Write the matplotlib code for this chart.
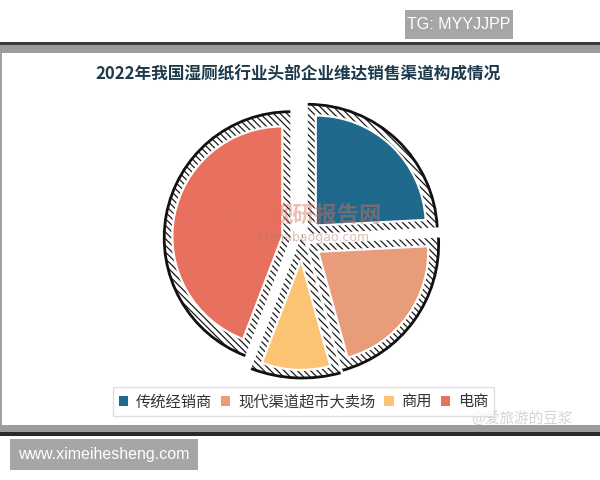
import numpy as np
import matplotlib
matplotlib.use("Agg")
import matplotlib.pyplot as plt
from matplotlib.patches import Wedge, Arc, Rectangle

plt.rcParams['font.family'] = ['Noto Sans CJK SC', 'DejaVu Sans']
plt.rcParams['hatch.linewidth'] = 0.9

title = "2022年我国湿厕纸行业头部企业维达销售渠道构成情况"
categories = ["传统经销商", "现代渠道超市大卖场", "商用", "电商"]
values = [24.2, 21.5, 10.1, 44.2]
colors = ["#1F698C", "#E89C7A", "#FBC373", "#E8705F"]

fig = plt.figure(figsize=(6, 4.8), dpi=100)
fig.patch.set_facecolor("white")
ax = fig.add_axes([0, 0, 1, 1])

# pie (data coordinates = pixels, y up)
cx, cy, R = 302, 240, 110
wedges, _ = ax.pie(values, colors=colors, startangle=90, counterclock=False,
                   center=(cx, cy), radius=R, explode=[20] * len(values),
                   wedgeprops=dict(edgecolor="white", linewidth=1.6, zorder=5))

d = 8.0
for w in wedges:
    t1, t2 = w.theta1, w.theta2
    a = np.deg2rad((t2 - t1) / 2.0)
    mid = np.deg2rad((t1 + t2) / 2.0)
    s = d / np.sin(a)
    c0 = np.array(w.center) - s * np.array([np.cos(mid), np.sin(mid)])
    rr = w.r + d + s
    bw = Wedge(tuple(c0), rr, t1, t2, facecolor="white", edgecolor="#1a1a1a",
               hatch="\\\\\\\\\\", linewidth=0, zorder=3)
    ax.add_patch(bw)
    arc = Arc(tuple(c0), 2 * rr, 2 * rr, theta1=t1, theta2=t2,
              color="#111111", linewidth=2.0, zorder=4)
    ax.add_patch(arc)

ax.set_xlim(0, 600)
ax.set_ylim(0, 480)
ax.set_aspect("equal")
ax.axis("off")

# frame bands
ax.add_patch(Rectangle((0, 480 - 45), 600, 3, facecolor="#3a3a3a", edgecolor="none", zorder=1))
ax.add_patch(Rectangle((0, 480 - 53), 600, 8, facecolor="#9c9c9c", edgecolor="none", zorder=1))
ax.add_patch(Rectangle((0, 480 - 432), 600, 7, facecolor="#9c9c9c", edgecolor="none", zorder=1))
ax.add_patch(Rectangle((0, 480 - 436), 600, 4, facecolor="#2a2a2a", edgecolor="none", zorder=1))
ax.add_patch(Rectangle((0, 480 - 425), 2, 372, facecolor="#a0a0a0", edgecolor="none", zorder=1))

# corner labels
ax.add_patch(Rectangle((405, 480 - 39), 108, 29, facecolor="#a6a6a6", edgecolor="none", zorder=1))
ax.text(459, 480 - 24.5, "TG: MYYJJPP", color="white", fontsize=11.5,
        ha="center", va="center", family=["Liberation Sans"], zorder=2)
ax.add_patch(Rectangle((10, 480 - 470), 188, 31, facecolor="#a6a6a6", edgecolor="none", zorder=1))
ax.text(104, 480 - 454.5, "www.ximeihesheng.com", color="white", fontsize=11.5,
        ha="center", va="center", family=["Liberation Sans"], zorder=2)

# title
ax.text(298, 480 - 75, title, fontsize=12, fontweight="bold", color="#1E3A4C",
        ha="center", va="center", zorder=6)

# watermarks
ax.text(326, 480 - 216, "观研报告网", fontsize=16, fontweight="bold", color="#D9705A",
        alpha=0.45, ha="center", va="center", zorder=7)
ax.text(314, 480 - 238, "chinabaogao.com", fontsize=9, color="#B07060",
        alpha=0.45, ha="center", va="center", family=["DejaVu Sans"], zorder=7)
ax.text(236, 480 - 222, "◎", fontsize=22, color="#D9705A", alpha=0.4,
        ha="center", va="center", family=["DejaVu Sans"], zorder=7)
ax.text(522, 480 - 418, "@爱旅游的豆浆", fontsize=10.5, color="#d4d4d4",
        ha="center", va="center", zorder=8)

leg = fig.legend(wedges, categories, loc="center", bbox_to_anchor=(0.506, 0.163),
                 ncol=4, frameon=True, fancybox=False, fontsize=11,
                 handlelength=0.6, handleheight=0.6, handletextpad=0.5,
                 columnspacing=0.6, borderpad=0.4, labelcolor="#333333")
leg.get_frame().set_edgecolor("#d8d8d8")
leg.get_frame().set_linewidth(1.0)
for h in leg.legend_handles:
    h.set_edgecolor("none")

fig.savefig("out.png", dpi=100)
